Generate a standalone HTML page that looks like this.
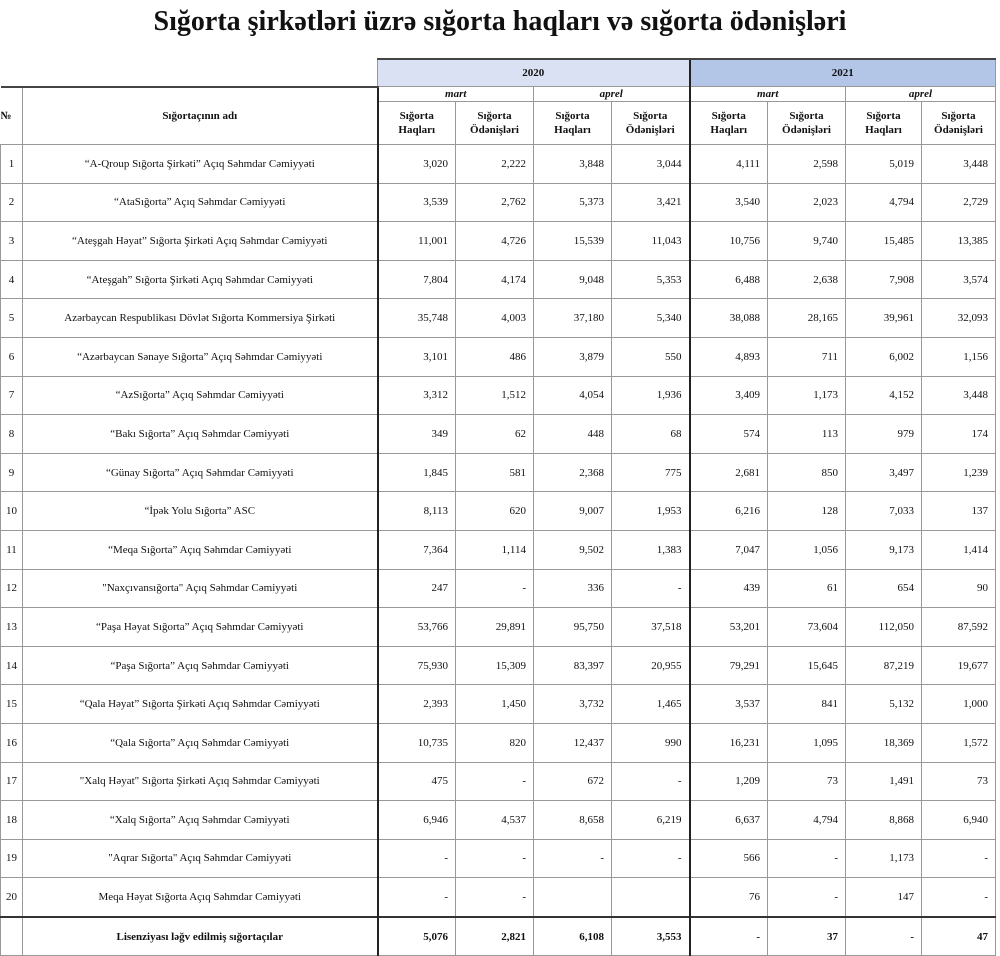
<!DOCTYPE html>
<html><head><meta charset="utf-8"><style>
body{margin:0;background:#fff;width:1000px;height:956px;overflow:hidden;position:relative;font-family:"Liberation Serif",serif;}
h1{position:absolute;top:6px;left:0;width:1000px;margin:0;text-align:center;font-size:28px;font-weight:bold;letter-spacing:0px;color:#111;}
table{position:absolute;left:0;top:58px;border-collapse:collapse;table-layout:fixed;width:995px;font-size:11px;color:#111;}
td{border:1px solid #999;padding:0;overflow:hidden;white-space:nowrap;}
td.n{text-align:right;padding-right:7px;}
td.c{text-align:center;}
tr.d td{height:37.6px;}
.yr{font-weight:bold;text-align:center;height:26px;border-top:2px solid #444;border-bottom:none;}
.y0{background:#d9e1f2;}
.y1{background:#b4c6e7;}
.mo{font-style:italic;font-weight:bold;text-align:center;height:14px;line-height:12px;}
.sh{font-weight:bold;text-align:center;line-height:14px;height:42px;}
.tl{border-left:2px solid #222!important;}
.blank{border:none;border-bottom:2px solid #444;}
.hd{font-weight:bold;text-align:center;}
.last td{font-weight:bold;border-top:2px solid #333;}
</style></head><body>
<h1>Sığorta şirkətləri üzrə sığorta haqları və sığorta ödənişləri</h1>
<table>
<colgroup><col style="width:22px"><col style="width:355px"><col style="width:78px"><col style="width:78px"><col style="width:78px"><col style="width:78px"><col style="width:78px"><col style="width:78px"><col style="width:76px"><col style="width:74px"></colgroup>
<tr><td colspan="2" class="blank" style="border-top:none"></td><td colspan="4" class="yr y0">2020</td><td colspan="4" class="yr y1 tl">2021</td></tr>
<tr><td rowspan="2" class="hd" style="text-align:left;border-left:none">№</td><td rowspan="2" class="hd">Sığortaçının adı</td><td colspan="2" class="mo tl">mart</td><td colspan="2" class="mo">aprel</td><td colspan="2" class="mo tl">mart</td><td colspan="2" class="mo">aprel</td></tr>
<tr><td class="sh tl">Sığorta<br>Haqları</td><td class="sh">Sığorta<br>Ödənişləri</td><td class="sh">Sığorta<br>Haqları</td><td class="sh">Sığorta<br>Ödənişləri</td><td class="sh tl">Sığorta<br>Haqları</td><td class="sh">Sığorta<br>Ödənişləri</td><td class="sh">Sığorta<br>Haqları</td><td class="sh">Sığorta<br>Ödənişləri</td></tr>
<tr class="d"><td class="c">1</td><td class="c">“A-Qroup Sığorta Şirkəti” Açıq Səhmdar Cəmiyyəti</td><td class="n tl">3,020</td><td class="n">2,222</td><td class="n">3,848</td><td class="n">3,044</td><td class="n tl">4,111</td><td class="n">2,598</td><td class="n">5,019</td><td class="n">3,448</td></tr>
<tr class="d"><td class="c">2</td><td class="c">“AtaSığorta” Açıq Səhmdar Cəmiyyəti</td><td class="n tl">3,539</td><td class="n">2,762</td><td class="n">5,373</td><td class="n">3,421</td><td class="n tl">3,540</td><td class="n">2,023</td><td class="n">4,794</td><td class="n">2,729</td></tr>
<tr class="d"><td class="c">3</td><td class="c">“Ateşgah Həyat” Sığorta Şirkəti Açıq Səhmdar Cəmiyyəti</td><td class="n tl">11,001</td><td class="n">4,726</td><td class="n">15,539</td><td class="n">11,043</td><td class="n tl">10,756</td><td class="n">9,740</td><td class="n">15,485</td><td class="n">13,385</td></tr>
<tr class="d"><td class="c">4</td><td class="c">“Ateşgah” Sığorta Şirkəti Açıq Səhmdar Cəmiyyəti</td><td class="n tl">7,804</td><td class="n">4,174</td><td class="n">9,048</td><td class="n">5,353</td><td class="n tl">6,488</td><td class="n">2,638</td><td class="n">7,908</td><td class="n">3,574</td></tr>
<tr class="d"><td class="c">5</td><td class="c">Azərbaycan Respublikası Dövlət Sığorta Kommersiya Şirkəti</td><td class="n tl">35,748</td><td class="n">4,003</td><td class="n">37,180</td><td class="n">5,340</td><td class="n tl">38,088</td><td class="n">28,165</td><td class="n">39,961</td><td class="n">32,093</td></tr>
<tr class="d"><td class="c">6</td><td class="c">“Azərbaycan Sənaye Sığorta” Açıq Səhmdar Cəmiyyəti</td><td class="n tl">3,101</td><td class="n">486</td><td class="n">3,879</td><td class="n">550</td><td class="n tl">4,893</td><td class="n">711</td><td class="n">6,002</td><td class="n">1,156</td></tr>
<tr class="d"><td class="c">7</td><td class="c">“AzSığorta” Açıq Səhmdar Cəmiyyəti</td><td class="n tl">3,312</td><td class="n">1,512</td><td class="n">4,054</td><td class="n">1,936</td><td class="n tl">3,409</td><td class="n">1,173</td><td class="n">4,152</td><td class="n">3,448</td></tr>
<tr class="d"><td class="c">8</td><td class="c">“Bakı Sığorta” Açıq Səhmdar Cəmiyyəti</td><td class="n tl">349</td><td class="n">62</td><td class="n">448</td><td class="n">68</td><td class="n tl">574</td><td class="n">113</td><td class="n">979</td><td class="n">174</td></tr>
<tr class="d"><td class="c">9</td><td class="c">“Günay Sığorta” Açıq Səhmdar Cəmiyyəti</td><td class="n tl">1,845</td><td class="n">581</td><td class="n">2,368</td><td class="n">775</td><td class="n tl">2,681</td><td class="n">850</td><td class="n">3,497</td><td class="n">1,239</td></tr>
<tr class="d"><td class="c">10</td><td class="c">“İpək Yolu Sığorta” ASC</td><td class="n tl">8,113</td><td class="n">620</td><td class="n">9,007</td><td class="n">1,953</td><td class="n tl">6,216</td><td class="n">128</td><td class="n">7,033</td><td class="n">137</td></tr>
<tr class="d"><td class="c">11</td><td class="c">“Meqa Sığorta” Açıq Səhmdar Cəmiyyəti</td><td class="n tl">7,364</td><td class="n">1,114</td><td class="n">9,502</td><td class="n">1,383</td><td class="n tl">7,047</td><td class="n">1,056</td><td class="n">9,173</td><td class="n">1,414</td></tr>
<tr class="d"><td class="c">12</td><td class="c">"Naxçıvansığorta" Açıq Səhmdar Cəmiyyəti</td><td class="n tl">247</td><td class="n">-</td><td class="n">336</td><td class="n">-</td><td class="n tl">439</td><td class="n">61</td><td class="n">654</td><td class="n">90</td></tr>
<tr class="d"><td class="c">13</td><td class="c">“Paşa Həyat Sığorta” Açıq Səhmdar Cəmiyyəti</td><td class="n tl">53,766</td><td class="n">29,891</td><td class="n">95,750</td><td class="n">37,518</td><td class="n tl">53,201</td><td class="n">73,604</td><td class="n">112,050</td><td class="n">87,592</td></tr>
<tr class="d"><td class="c">14</td><td class="c">“Paşa Sığorta” Açıq Səhmdar Cəmiyyəti</td><td class="n tl">75,930</td><td class="n">15,309</td><td class="n">83,397</td><td class="n">20,955</td><td class="n tl">79,291</td><td class="n">15,645</td><td class="n">87,219</td><td class="n">19,677</td></tr>
<tr class="d"><td class="c">15</td><td class="c">“Qala Həyat” Sığorta Şirkəti Açıq Səhmdar Cəmiyyəti</td><td class="n tl">2,393</td><td class="n">1,450</td><td class="n">3,732</td><td class="n">1,465</td><td class="n tl">3,537</td><td class="n">841</td><td class="n">5,132</td><td class="n">1,000</td></tr>
<tr class="d"><td class="c">16</td><td class="c">“Qala Sığorta” Açıq Səhmdar Cəmiyyəti</td><td class="n tl">10,735</td><td class="n">820</td><td class="n">12,437</td><td class="n">990</td><td class="n tl">16,231</td><td class="n">1,095</td><td class="n">18,369</td><td class="n">1,572</td></tr>
<tr class="d"><td class="c">17</td><td class="c">"Xalq Həyat" Sığorta Şirkəti Açıq Səhmdar Cəmiyyəti</td><td class="n tl">475</td><td class="n">-</td><td class="n">672</td><td class="n">-</td><td class="n tl">1,209</td><td class="n">73</td><td class="n">1,491</td><td class="n">73</td></tr>
<tr class="d"><td class="c">18</td><td class="c">“Xalq Sığorta” Açıq Səhmdar Cəmiyyəti</td><td class="n tl">6,946</td><td class="n">4,537</td><td class="n">8,658</td><td class="n">6,219</td><td class="n tl">6,637</td><td class="n">4,794</td><td class="n">8,868</td><td class="n">6,940</td></tr>
<tr class="d"><td class="c">19</td><td class="c">"Aqrar Sığorta" Açıq Səhmdar Cəmiyyəti</td><td class="n tl">-</td><td class="n">-</td><td class="n">-</td><td class="n">-</td><td class="n tl">566</td><td class="n">-</td><td class="n">1,173</td><td class="n">-</td></tr>
<tr class="d"><td class="c">20</td><td class="c">Meqa Həyat Sığorta Açıq Səhmdar Cəmiyyəti</td><td class="n tl">-</td><td class="n">-</td><td class="n"></td><td class="n"></td><td class="n tl">76</td><td class="n">-</td><td class="n">147</td><td class="n">-</td></tr>
<tr class="d last"><td class="c"></td><td class="c">Lisenziyası ləğv edilmiş sığortaçılar</td><td class="n tl">5,076</td><td class="n">2,821</td><td class="n">6,108</td><td class="n">3,553</td><td class="n tl">-</td><td class="n">37</td><td class="n">-</td><td class="n">47</td></tr>
</table>
</body></html>
